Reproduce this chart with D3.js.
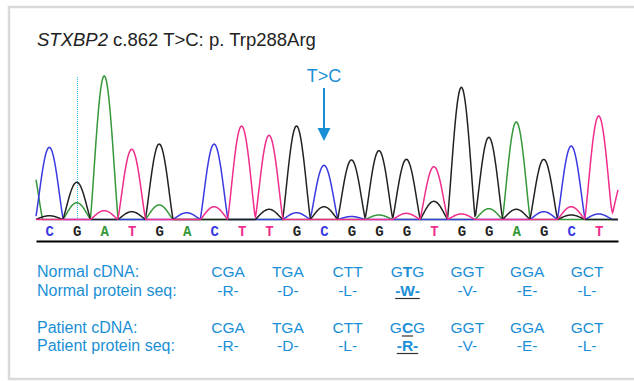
<!DOCTYPE html>
<html>
<head>
<meta charset="utf-8">
<script src="https://cdn.jsdelivr.net/npm/d3@7"></script>
<style>
  body { margin: 0; background: #fff; }
  svg { display: block; }
</style>
</head>
<body>
<svg id="chart"></svg>
<script>
// Base calls along the trace
const bases = ['C','G','A','T','G','A','C','T','T','G','C','G','G','G','T','G','G','A','G','C','T'];

// Peak centres in base units (first and last are the clipped flanking peaks)
const peakPos = [-0.75, 0, 1, 2, 3, 4, 5, 6, 7, 8, 9, 10, 11, 12, 13, 14, 15, 16, 17, 18, 19, 20, 20.95];

// Peak heights per channel at each position in peakPos
const signalA = [420, 0, 112, 957, 0, 97, 0, 0, 0, 0, 0, 0, 0, 30, 0, 0, 0, 72, 650, 0, 0, 0, 0];
const signalC = [0, 481, 0, 0, 0, 0, 45, 503, 0, 0, 45, 361, 20, 0, 0, 0, 0, 0, 0, 52, 490, 37, 0];
const signalG = [0, 25, 248, 0, 52, 503, 0, 0, 0, 68, 623, 85, 397, 459, 401, 121, 881, 548, 68, 401, 30, 0, 0];
const signalT = [0, 0, 0, 59, 468, 0, 0, 85, 623, 561, 0, 0, 0, 0, 41, 352, 37, 0, 0, 0, 85, 690, 290];

// Codon table
const normalCodons = ['CGA','TGA','CTT','GTG','GGT','GGA','GCT'];
const normalAA = ['R','D','L','W','V','E','L'];
const patientCodons = ['CGA','TGA','CTT','GCG','GGT','GGA','GCT'];
const patientAA = ['R','D','L','R','V','E','L'];
const mutCodon = 3;   // codon with the change
const mutBase = 1;    // base inside that codon

const width = 634, height = 381;
const svg = d3.select('#chart').attr('width', width).attr('height', height);

const blue = '#1b8fd6';
const channelColor = { A: '#35983a', C: '#3a3ae0', G: '#222222', T: '#ef2d8c' };
const font = 'Liberation Sans, Arial, sans-serif';

// frame
svg.append('rect')
  .attr('x', 9).attr('y', 7)
  .attr('width', 650).attr('height', 372)
  .attr('fill', 'none')
  .attr('stroke', '#dadada')
  .attr('stroke-width', 2.5);

// title
const title = svg.append('text')
  .attr('x', 37).attr('y', 46)
  .attr('font-family', font)
  .attr('font-size', 18.5)
  .attr('fill', '#222');
title.append('tspan').attr('font-style', 'italic').text('STXBP2');
title.append('tspan').text(' c.862 T>C: p. Trp288Arg');

// scales
const x = d3.scaleLinear().domain([-0.484, 20.703]).range([36, 618]);
const y = d3.scaleLinear().domain([0, 1000]).range([219.5, 69.5]);
const halfWidth = 14; // peak half-width at base, px

const xs = d3.range(36, 618.01, 0.5);
function trace(heights) {
  return xs.map(px => {
    let v = 0;
    heights.forEach((h, i) => {
      if (!h) return;
      const u = Math.abs(px - x(peakPos[i])) / halfWidth;
      if (u < 1) v += h * Math.pow(Math.cos(u * Math.PI / 2), 1.2);
    });
    return [px, v];
  });
}

const line = d3.line().x(d => d[0]).y(d => y(d[1]));

// dotted marker line
svg.append('line')
  .attr('x1', Math.round(x(1)) + 0.5).attr('x2', Math.round(x(1)) + 0.5)
  .attr('y1', 77).attr('y2', y(0))
  .attr('stroke', '#3fbaf0')
  .attr('stroke-width', 1)
  .attr('stroke-dasharray', '1,1');

[['A', signalA], ['C', signalC], ['G', signalG], ['T', signalT]].forEach(([b, s]) => {
  svg.append('path')
    .datum(trace(s))
    .attr('fill', 'none')
    .attr('stroke', channelColor[b])
    .attr('stroke-width', 1.5)
    .attr('d', line);
});

// base-call axis
const axis = svg.append('g')
  .attr('transform', 'translate(0,241)')
  .call(d3.axisTop(x)
    .tickValues(d3.range(bases.length))
    .tickSize(0)
    .tickPadding(5)
    .tickFormat(i => bases[i]));
axis.select('.domain').attr('stroke', '#000').attr('stroke-width', 2);
axis.selectAll('.tick text')
  .attr('font-family', 'Liberation Mono, Courier New, monospace')
  .attr('font-weight', 'bold')
  .attr('font-size', 14)
  .attr('fill', i => channelColor[bases[i]]);

// mutation arrow
const ax = x(10);
svg.append('text')
  .attr('x', ax).attr('y', 82)
  .attr('text-anchor', 'middle')
  .attr('font-family', font)
  .attr('font-size', 18)
  .attr('fill', blue)
  .text('T>C');
svg.append('line')
  .attr('x1', ax).attr('x2', ax)
  .attr('y1', 88).attr('y2', 129)
  .attr('stroke', blue).attr('stroke-width', 2);
svg.append('path')
  .attr('d', `M${ax - 6.5},128L${ax + 6.5},128L${ax},141Z`)
  .attr('fill', blue);

// codon table
const col = d3.scalePoint().domain(d3.range(normalCodons.length)).range([228, 587]);

const rows = [
  { label: 'Normal cDNA:', y: 277, items: normalCodons, kind: 'codon', underline: false },
  { label: 'Normal protein seq:', y: 296, items: normalAA, kind: 'aa' },
  { label: 'Patient cDNA:', y: 333, items: patientCodons, kind: 'codon', underline: true },
  { label: 'Patient protein seq:', y: 351, items: patientAA, kind: 'aa' }
];

const underlineTargets = [];

rows.forEach(r => {
  svg.append('text')
    .attr('x', 37).attr('y', r.y)
    .attr('font-family', font).attr('font-size', 16)
    .attr('fill', blue)
    .text(r.label);

  r.items.forEach((item, i) => {
    const t = svg.append('text')
      .attr('x', col(i)).attr('y', r.y)
      .attr('text-anchor', 'middle')
      .attr('font-family', font).attr('font-size', 15.5)
      .attr('fill', blue);
    if (i === mutCodon && r.kind === 'codon') {
      item.split('').forEach((ch, k) => {
        const sp = t.append('tspan').text(ch);
        if (k === mutBase) {
          sp.attr('font-weight', 'bold');
          if (r.underline) underlineTargets.push({ node: sp.node(), y: r.y + 3 });
        }
      });
    } else if (r.kind === 'aa') {
      t.text(`-${item}-`);
      if (i === mutCodon) {
        t.attr('font-weight', 'bold');
        underlineTargets.push({ node: t.node(), y: r.y + 2.5 });
      }
    } else {
      t.text(item);
    }
  });
});

underlineTargets.forEach(u => {
  let x0, x1;
  if (u.node.tagName === 'tspan') {
    const n = u.node.getNumberOfChars();
    x0 = u.node.getStartPositionOfChar(0).x;
    x1 = u.node.getEndPositionOfChar(n - 1).x;
  } else {
    const bb = u.node.getBBox();
    x0 = bb.x; x1 = bb.x + bb.width;
  }
  svg.append('line')
    .attr('x1', x0).attr('x2', x1)
    .attr('y1', u.y).attr('y2', u.y)
    .attr('stroke', '#333').attr('stroke-width', 1.2);
});
</script>
</body>
</html>
